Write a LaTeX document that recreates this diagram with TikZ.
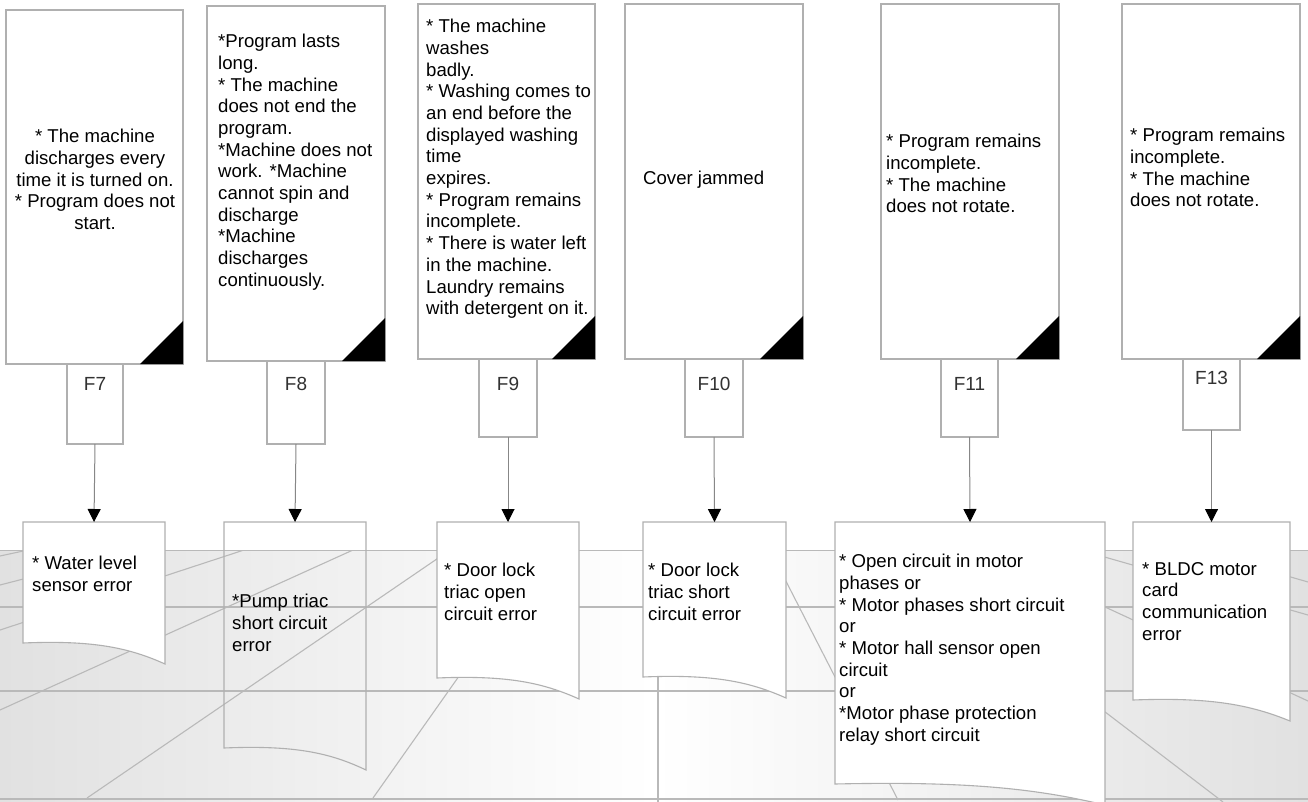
\documentclass[tikz,border=0pt]{standalone}
\usepackage{fontspec}
\setmainfont{Liberation Sans}
\newfontfamily\lblfont{Liberation Sans}
\usetikzlibrary{arrows.meta,calc}
\definecolor{boxgray}{RGB}{176,176,176}
\definecolor{gridgray}{RGB}{185,185,185}
\definecolor{conngray}{RGB}{135,135,135}
\definecolor{bandgray}{RGB}{225,225,225}
\definecolor{lbltxt}{RGB}{50,50,50}
\begin{document}
\begin{tikzpicture}[x=1pt,y=-1pt,
  topbox/.style={draw=boxgray,line width=1.4pt,fill=white,inner sep=0pt,outer sep=0pt},
  lblbox/.style={draw=boxgray,line width=1.2pt,fill=white,inner sep=0pt,outer sep=0pt},
  docnode/.style={inner sep=0pt,outer sep=0pt},
  docline/.style={draw=boxgray,line width=1.1pt},
  corner/.style={fill=black},
  txt/.style={inner sep=0pt,align=left,font=\fontsize{18.6}{21.7}\selectfont},
  lbl/.style={inner sep=0pt,text=lbltxt,font=\lblfont\fontsize{19}{20}\selectfont},
  gridline/.style={draw=gridgray,line width=1.1pt},
  conn/.style={draw=conngray,line width=1pt,-{Triangle[width=13pt,length=13pt,color=black,fill=black]}}
]
\useasboundingbox (0,0) rectangle (1308,802);
\fill[white] (0,0) rectangle (1308,802);
% background floor band
\fill[left color=bandgray,right color=bandgray,middle color=white] (0,550) rectangle (1308,802);
\begin{scope}
\clip (0,550) rectangle (1308,802);
\draw[gridline] (0,550) -- (1308,550);
\draw[gridline] (0,607) -- (1308,607);
\draw[gridline] (0,691) -- (1308,691);
\draw[gridline] (0,799) -- (1308,799);
\draw[gridline] (658,550) -- (658,802);
% left fan
\draw[gridline] (0,556) -- (28,550);
\draw[gridline] (0,585) -- (136,550);
\draw[gridline] (0,630) -- (244,550);
\draw[gridline] (0,710) -- (353,550);
\draw[gridline] (87,798) -- (450,550);
\draw[gridline] (373,798) -- (548,550);
% right fan
\draw[gridline] (770,550) -- (898,800);
\draw[gridline] (893,550) -- (1223,802);
\draw[gridline] (982,550) -- (1308,701);
\draw[gridline] (1080,550) -- (1308,615);
\draw[gridline] (1197,550) -- (1308,582);
\end{scope}

% top symptom boxes
\node[topbox,minimum width=177pt,minimum height=354pt] (b7) at (94.5,187) {};
\node[topbox,minimum width=178pt,minimum height=355pt] (b8) at (296,183.5) {};
\node[topbox,minimum width=177pt,minimum height=355pt] (b9) at (506.5,181.5) {};
\node[topbox,minimum width=178pt,minimum height=355pt] (b10) at (714,181.5) {};
\node[topbox,minimum width=178pt,minimum height=355pt] (b11) at (970,181.5) {};
\node[topbox,minimum width=178pt,minimum height=355pt] (b13) at (1211,181.5) {};
\foreach \b in {b7,b8,b9,b10,b11,b13}{
  \fill[corner] (\b.south east) -- ++(-43,0) -- ++(43,-43) -- cycle;
}

% symptom texts
\node[txt,align=center,anchor=north] (t7) at (95,129) {* The machine\\discharges every\\time it is turned on.\\* Program does not\\start.};
\node[txt,anchor=north west] (t8) at (218,34) {*Program lasts\\long.\\* The machine\\does not end the\\program.\\*Machine does not\\work. *Machine\\cannot spin and\\discharge\\*Machine\\discharges\\continuously.};
\node[txt,anchor=north west] (t9) at (426,19) {* The machine\\washes\\badly.\\* Washing comes to\\an end before the\\displayed washing\\time\\expires.\\* Program remains\\incomplete.\\* There is water left\\in the machine.\\Laundry remains\\with detergent on it.};
\node[txt,anchor=north west] (t10) at (643,171) {Cover jammed};
\node[txt,anchor=north west] (t11) at (886,134) {* Program remains\\incomplete.\\* The machine\\does not rotate.};
\node[txt,anchor=north west] (t13) at (1130,128) {* Program remains\\incomplete.\\* The machine\\does not rotate.};

% code label boxes
\node[lblbox,minimum width=56pt,minimum height=80pt] (l7) at (95,404) {};
\node[lblbox,minimum width=58pt,minimum height=83pt] (l8) at (296,402.5) {};
\node[lblbox,minimum width=58pt,minimum height=78pt] (l9) at (508,398) {};
\node[lblbox,minimum width=58pt,minimum height=78pt] (l10) at (714,398) {};
\node[lblbox,minimum width=57pt,minimum height=78pt] (l11) at (969.5,398) {};
\node[lblbox,minimum width=57pt,minimum height=71pt] (l13) at (1211.5,394.5) {};
\node[lbl] (c7) at (95,384) {F7};
\node[lbl] (c8) at (296,384) {F8};
\node[lbl] (c9) at (508,384) {F9};
\node[lbl] (c10) at (714,384) {F10};
\node[lbl] (c11) at (969.5,384) {F11};
\node[lbl] (c13) at (1211.5,378) {F13};

% error documents
\node[docnode,minimum width=142pt,minimum height=121pt] (d7) at (94,582.5) {};
\node[docnode,minimum width=142pt,minimum height=226pt] (d8) at (295,635) {};
\node[docnode,minimum width=142pt,minimum height=156pt] (d9) at (508,600) {};
\node[docnode,minimum width=143pt,minimum height=155pt] (d10) at (714.5,599.5) {};
\node[docnode,minimum width=270pt,minimum height=262pt] (d11) at (970,653) {};
\node[docnode,minimum width=157pt,minimum height=178pt] (d13) at (1211.5,611) {};
\foreach \d in {d7,d9,d10,d11,d13}{
  \draw[docline,fill=white] (\d.north west) -- (\d.north east) -- ($(\d.south east)+(0,21)$)
    .. controls ($(\d.south west)!0.75!(\d.south east)+(0,5)$) and ($(\d.south west)!0.5!(\d.south east)+(0,-3)$) .. (\d.south west) -- cycle;
}
\draw[docline] (d8.north west) -- (d8.north east) -- ($(d8.south east)+(0,22)$)
    .. controls ($(d8.south west)!0.75!(d8.south east)+(0,5)$) and ($(d8.south west)!0.5!(d8.south east)+(0,-3)$) .. (d8.south west) -- cycle;

% error texts
\node[txt,anchor=north west] (u7) at (32,556) {* Water level\\sensor error};
\node[txt,anchor=north west] (u8) at (232,594) {*Pump triac\\short circuit\\error};
\node[txt,anchor=north west] (u9) at (444,563) {* Door lock\\triac open\\circuit error};
\node[txt,anchor=north west] (u10) at (648,563) {* Door lock\\triac short\\circuit error};
\node[txt,anchor=north west] (u11) at (839,554) {* Open circuit in motor\\phases or\\* Motor phases short circuit\\or\\* Motor hall sensor open\\circuit\\or\\*Motor phase protection\\relay short circuit};
\node[txt,anchor=north west] (u13) at (1142,562) {* BLDC motor\\card\\communication\\error};

% connectors
\draw[conn] (l7.south) -- (d7.north);
\draw[conn] (l8.south) -- (d8.north);
\draw[conn] (l9.south) -- (d9.north);
\draw[conn] (l10.south) -- (d10.north);
\draw[conn] (l11.south) -- (d11.north);
\draw[conn] (l13.south) -- (d13.north);
\end{tikzpicture}
\end{document}
